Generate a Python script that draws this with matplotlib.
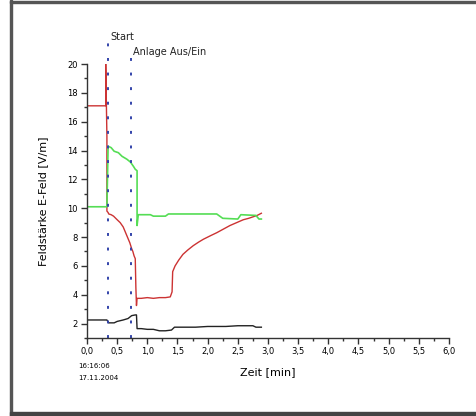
import matplotlib
matplotlib.use("Agg")
import matplotlib.pyplot as plt
from matplotlib.ticker import MultipleLocator, FuncFormatter
from matplotlib.patches import Rectangle

# --- data ---
red_x = [0.0, 0.31, 0.31, 0.33, 0.33, 0.35, 0.36, 0.40, 0.44, 0.50, 0.55, 0.60, 0.63, 0.67, 0.71, 0.74,
         0.76, 0.78, 0.80, 0.81, 0.82, 0.83, 0.90, 1.00, 1.10, 1.20, 1.30, 1.38, 1.41, 1.42, 1.46,
         1.52, 1.59, 1.67, 1.76, 1.85, 1.93, 2.05, 2.15, 2.26, 2.37, 2.48, 2.59, 2.68, 2.75, 2.82, 2.89]
red_y = [17.1, 17.1, 20.0, 15.0, 9.8, 9.7, 9.6, 9.55, 9.45, 9.2, 9.0, 8.7, 8.4, 8.0, 7.6, 7.2,
         7.0, 6.7, 6.5, 4.5, 3.25, 3.75, 3.75, 3.8, 3.75, 3.8, 3.8, 3.85, 4.2, 5.6, 6.0,
         6.4, 6.8, 7.1, 7.4, 7.65, 7.85, 8.1, 8.3, 8.55, 8.8, 9.0, 9.2, 9.3, 9.4, 9.5, 9.65]

green_x = [0.0, 0.33, 0.35, 0.40, 0.45, 0.52, 0.58, 0.66, 0.72, 0.77, 0.80, 0.83, 0.83, 0.85, 0.90,
           1.05, 1.10, 1.30, 1.35, 1.60, 1.70, 2.15, 2.25, 2.50, 2.55, 2.80, 2.85, 2.89]
green_y = [10.1, 10.1, 14.3, 14.2, 13.95, 13.85, 13.6, 13.4, 13.2, 12.9, 12.7, 12.6, 8.8, 9.55, 9.55,
           9.55, 9.45, 9.45, 9.6, 9.6, 9.6, 9.6, 9.3, 9.25, 9.55, 9.5, 9.25, 9.25]

black_x = [0.0, 0.33, 0.36, 0.45, 0.50, 0.60, 0.68, 0.74, 0.80, 0.82, 0.83, 0.90, 1.00, 1.10, 1.20,
           1.30, 1.40, 1.45, 1.80, 2.00, 2.30, 2.50, 2.75, 2.80, 2.89]
black_y = [2.25, 2.25, 2.05, 2.05, 2.15, 2.25, 2.35, 2.55, 2.6, 2.6, 1.65, 1.65, 1.6, 1.6, 1.5,
           1.5, 1.55, 1.75, 1.75, 1.8, 1.8, 1.85, 1.85, 1.75, 1.75]

markers_x = [0.35, 0.73]
markers_label = ["Start", "Anlage Aus/Ein"]

xticks = [0.0, 0.5, 1.0, 1.5, 2.0, 2.5, 3.0, 3.5, 4.0, 4.5, 5.0, 5.5, 6.0]
yticks = [2, 4, 6, 8, 10, 12, 14, 16, 18, 20]

W, H = 477, 416
fig = plt.figure(figsize=(W / 100, H / 100), dpi=100)
fig.patch.set_facecolor("white")

# frame around the figure
fig.patches.append(Rectangle((10 / W, 0), 1.5 / W, 1, transform=fig.transFigure,
                             color="#555555", zorder=0))
fig.patches.append(Rectangle((10 / W, 1 - 2.5 / H), 1 - 10 / W, 1.5 / H, transform=fig.transFigure,
                             color="#555555", zorder=0))
fig.patches.append(Rectangle((10 / W, 0), 1 - 10 / W, 4.0 / H, transform=fig.transFigure,
                             color="#444444", zorder=0))

ax = fig.add_axes([87 / W, (H - 338) / H, (449 - 87) / W, (338 - 64) / H])
ax.set_xlim(0, 6.0)
ax.set_ylim(1.0, 20)

ax.plot(red_x, red_y, color="#cc3333", lw=1.0)
ax.plot(green_x, green_y, color="#55dd55", lw=1.2)
ax.plot(black_x, black_y, color="#222222", lw=1.0)

# marker lines (extend above axes), label positions
tops = [21.45, 20.8]
text_y = [21.85, 20.8]
for xm, lab, top, ty in zip(markers_x, markers_label, tops, text_y):
    ax.plot([xm, xm], [1.0, top], color="#3344aa", lw=1.4, ls=(0, (1.5, 6)), clip_on=False)
    ax.text(xm + 0.03, ty, lab, fontsize=7, va="center", ha="left", color="#222222")

for s in ["top", "right"]:
    ax.spines[s].set_visible(False)
for s in ["left", "bottom"]:
    ax.spines[s].set_color("#333333")
    ax.spines[s].set_linewidth(1.0)

ax.set_xticks(xticks)
ax.set_yticks(yticks)
ax.xaxis.set_minor_locator(MultipleLocator(0.25))
ax.yaxis.set_minor_locator(MultipleLocator(1))
ax.xaxis.set_major_formatter(FuncFormatter(lambda v, p: f"{v:.1f}".replace(".", ",")))
ax.tick_params(axis="both", which="major", direction="out", length=4.5, width=1, labelsize=6,
               color="#333333", pad=2)
ax.tick_params(axis="both", which="minor", direction="out", length=2.5, width=1, color="#333333")

ax.set_xlabel("Zeit [min]", fontsize=8, labelpad=8)
ax.set_ylabel("Feldstärke E-Feld [V/m]", fontsize=8, labelpad=14)

fig.text(78 / W, 1 - 366 / H, "16:16:06", fontsize=5, va="center", ha="left")
fig.text(78 / W, 1 - 378 / H, "17.11.2004", fontsize=5, va="center", ha="left")

fig.savefig("out.png", dpi=100)
